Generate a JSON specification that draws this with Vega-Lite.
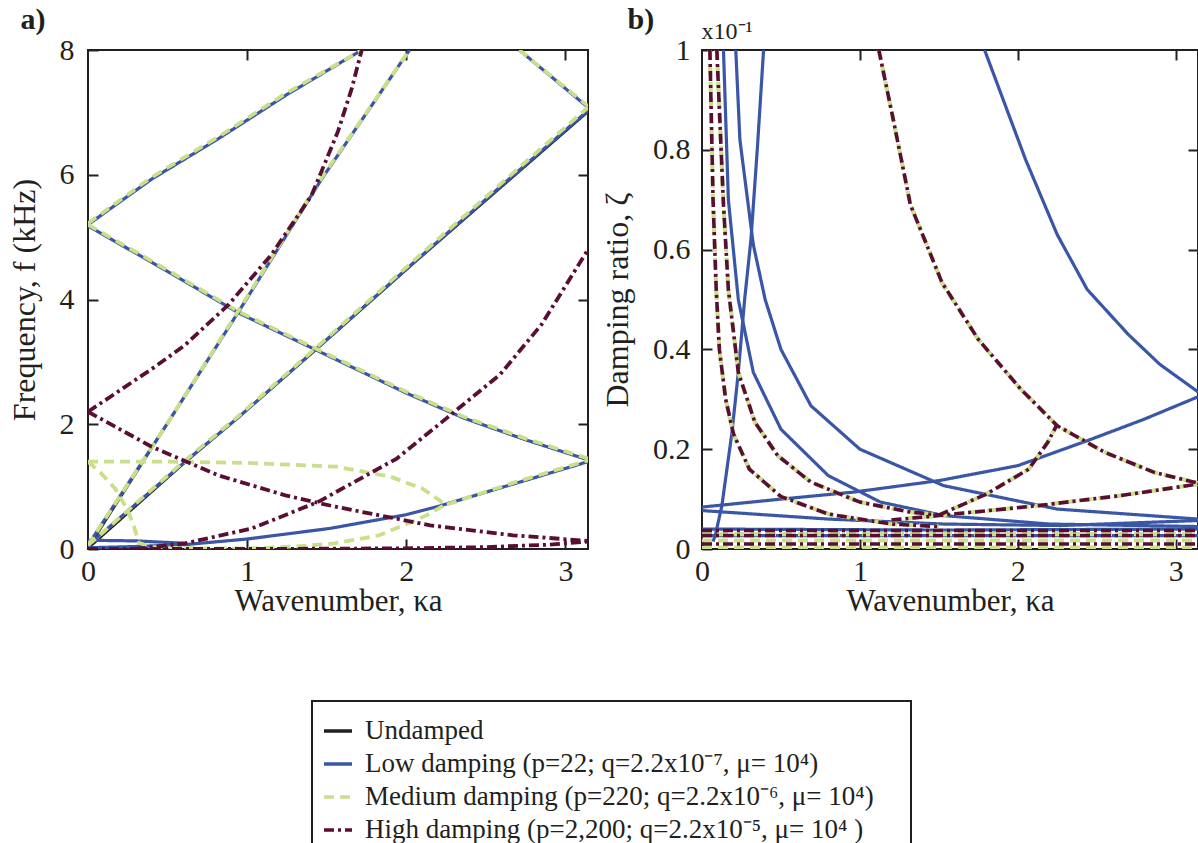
{
  "$schema": "https://vega.github.io/schema/vega-lite/v6.json",
  "padding": {"left": 7, "top": 3, "right": 0, "bottom": 0},
  "spacing": 10,
  "datasets": {
    "a": [
      {"s":"Undamped","c":"A","i":0,"x":0,"y":0},{"s":"Undamped","c":"A","i":1,"x":0.5,"y":2.0},{"s":"Undamped","c":"A","i":2,"x":0.94,"y":3.78},{"s":"Undamped","c":"A","i":3,"x":1.47,"y":5.94},{"s":"Undamped","c":"A","i":4,"x":2.02,"y":8},
      {"s":"Undamped","c":"B","i":0,"x":0,"y":0},{"s":"Undamped","c":"B","i":1,"x":0.61,"y":1.38},{"s":"Undamped","c":"B","i":2,"x":0.94,"y":2.09},{"s":"Undamped","c":"B","i":3,"x":1.43,"y":3.18},{"s":"Undamped","c":"B","i":4,"x":2.05,"y":4.58},{"s":"Undamped","c":"B","i":5,"x":2.6,"y":5.8},{"s":"Undamped","c":"B","i":6,"x":3.1416,"y":7.0},
      {"s":"Undamped","c":"C","i":0,"x":0,"y":5.2},{"s":"Undamped","c":"C","i":1,"x":0.4,"y":5.93},{"s":"Undamped","c":"C","i":2,"x":0.82,"y":6.58},{"s":"Undamped","c":"C","i":3,"x":1.24,"y":7.27},{"s":"Undamped","c":"C","i":4,"x":1.72,"y":8},
      {"s":"Undamped","c":"D","i":0,"x":0,"y":5.18},{"s":"Undamped","c":"D","i":1,"x":0.5,"y":4.45},{"s":"Undamped","c":"D","i":2,"x":0.95,"y":3.78},{"s":"Undamped","c":"D","i":3,"x":1.45,"y":3.17},{"s":"Undamped","c":"D","i":4,"x":2.0,"y":2.5},{"s":"Undamped","c":"D","i":5,"x":2.36,"y":2.1},{"s":"Undamped","c":"D","i":6,"x":2.75,"y":1.75},{"s":"Undamped","c":"D","i":7,"x":3.1416,"y":1.43},
      {"s":"Undamped","c":"E","i":0,"x":2.71,"y":8},{"s":"Undamped","c":"E","i":1,"x":3.1416,"y":7.08},
      {"s":"Undamped","c":"L","i":0,"x":0,"y":0},{"s":"Undamped","c":"L","i":1,"x":0.3,"y":0.03},{"s":"Undamped","c":"L","i":2,"x":0.61,"y":0.07},{"s":"Undamped","c":"L","i":3,"x":1.0,"y":0.16},{"s":"Undamped","c":"L","i":4,"x":1.52,"y":0.33},{"s":"Undamped","c":"L","i":5,"x":2.0,"y":0.55},{"s":"Undamped","c":"L","i":6,"x":2.21,"y":0.69},{"s":"Undamped","c":"L","i":7,"x":2.67,"y":1.04},{"s":"Undamped","c":"L","i":8,"x":3.1416,"y":1.4},

      {"s":"Low","c":"A","i":0,"x":0,"y":0.06},{"s":"Low","c":"A","i":1,"x":0.5,"y":2.02},{"s":"Low","c":"A","i":2,"x":0.94,"y":3.78},{"s":"Low","c":"A","i":3,"x":1.47,"y":5.94},{"s":"Low","c":"A","i":4,"x":2.02,"y":8},
      {"s":"Low","c":"B","i":0,"x":0,"y":0.06},{"s":"Low","c":"B","i":1,"x":0.61,"y":1.4},{"s":"Low","c":"B","i":2,"x":0.94,"y":2.1},{"s":"Low","c":"B","i":3,"x":1.43,"y":3.2},{"s":"Low","c":"B","i":4,"x":2.05,"y":4.6},{"s":"Low","c":"B","i":5,"x":2.6,"y":5.83},{"s":"Low","c":"B","i":6,"x":3.1416,"y":7.03},
      {"s":"Low","c":"C","i":0,"x":0,"y":5.2},{"s":"Low","c":"C","i":1,"x":0.4,"y":5.93},{"s":"Low","c":"C","i":2,"x":0.82,"y":6.58},{"s":"Low","c":"C","i":3,"x":1.24,"y":7.27},{"s":"Low","c":"C","i":4,"x":1.72,"y":8},
      {"s":"Low","c":"D","i":0,"x":0,"y":5.18},{"s":"Low","c":"D","i":1,"x":0.5,"y":4.45},{"s":"Low","c":"D","i":2,"x":0.95,"y":3.78},{"s":"Low","c":"D","i":3,"x":1.45,"y":3.17},{"s":"Low","c":"D","i":4,"x":2.0,"y":2.5},{"s":"Low","c":"D","i":5,"x":2.36,"y":2.1},{"s":"Low","c":"D","i":6,"x":2.75,"y":1.75},{"s":"Low","c":"D","i":7,"x":3.1416,"y":1.43},
      {"s":"Low","c":"E","i":0,"x":2.71,"y":8},{"s":"Low","c":"E","i":1,"x":3.1416,"y":7.08},
      {"s":"Low","c":"L1","i":0,"x":0,"y":0.14},{"s":"Low","c":"L1","i":1,"x":0.3,"y":0.13},{"s":"Low","c":"L1","i":2,"x":0.62,"y":0.09},
      {"s":"Low","c":"L2","i":0,"x":0,"y":0.02},{"s":"Low","c":"L2","i":1,"x":0.3,"y":0.04},{"s":"Low","c":"L2","i":2,"x":0.61,"y":0.07},{"s":"Low","c":"L2","i":3,"x":1.0,"y":0.16},{"s":"Low","c":"L2","i":4,"x":1.52,"y":0.33},{"s":"Low","c":"L2","i":5,"x":2.0,"y":0.55},{"s":"Low","c":"L2","i":6,"x":2.21,"y":0.69},{"s":"Low","c":"L2","i":7,"x":2.67,"y":1.04},{"s":"Low","c":"L2","i":8,"x":3.1416,"y":1.4},

      {"s":"Medium","c":"A","i":0,"x":0,"y":0.06},{"s":"Medium","c":"A","i":1,"x":0.5,"y":2.02},{"s":"Medium","c":"A","i":2,"x":0.94,"y":3.8},{"s":"Medium","c":"A","i":3,"x":1.47,"y":5.96},{"s":"Medium","c":"A","i":4,"x":2.02,"y":8},
      {"s":"Medium","c":"B","i":0,"x":0,"y":0.06},{"s":"Medium","c":"B","i":1,"x":0.61,"y":1.42},{"s":"Medium","c":"B","i":2,"x":0.94,"y":2.12},{"s":"Medium","c":"B","i":3,"x":1.43,"y":3.22},{"s":"Medium","c":"B","i":4,"x":2.05,"y":4.63},{"s":"Medium","c":"B","i":5,"x":2.6,"y":5.87},{"s":"Medium","c":"B","i":6,"x":3.1416,"y":7.08},
      {"s":"Medium","c":"C","i":0,"x":0,"y":5.22},{"s":"Medium","c":"C","i":1,"x":0.4,"y":5.96},{"s":"Medium","c":"C","i":2,"x":0.82,"y":6.61},{"s":"Medium","c":"C","i":3,"x":1.24,"y":7.3},{"s":"Medium","c":"C","i":4,"x":1.72,"y":8},
      {"s":"Medium","c":"D","i":0,"x":0,"y":5.2},{"s":"Medium","c":"D","i":1,"x":0.5,"y":4.47},{"s":"Medium","c":"D","i":2,"x":0.95,"y":3.8},{"s":"Medium","c":"D","i":3,"x":1.45,"y":3.19},{"s":"Medium","c":"D","i":4,"x":2.0,"y":2.52},{"s":"Medium","c":"D","i":5,"x":2.36,"y":2.12},{"s":"Medium","c":"D","i":6,"x":2.75,"y":1.77},{"s":"Medium","c":"D","i":7,"x":3.1416,"y":1.45},
      {"s":"Medium","c":"E","i":0,"x":2.71,"y":8},{"s":"Medium","c":"E","i":1,"x":3.1416,"y":7.1},
      {"s":"Medium","c":"G1","i":0,"x":0,"y":1.4},{"s":"Medium","c":"G1","i":1,"x":0.5,"y":1.4},{"s":"Medium","c":"G1","i":2,"x":1.0,"y":1.38},{"s":"Medium","c":"G1","i":3,"x":1.56,"y":1.32},{"s":"Medium","c":"G1","i":4,"x":1.9,"y":1.16},{"s":"Medium","c":"G1","i":5,"x":2.1,"y":0.97},{"s":"Medium","c":"G1","i":6,"x":2.21,"y":0.78},{"s":"Medium","c":"G1","i":7,"x":2.24,"y":0.7},{"s":"Medium","c":"G1","i":8,"x":2.67,"y":1.06},{"s":"Medium","c":"G1","i":9,"x":3.1416,"y":1.42},
      {"s":"Medium","c":"G2","i":0,"x":0,"y":1.4},{"s":"Medium","c":"G2","i":1,"x":0.08,"y":1.22},{"s":"Medium","c":"G2","i":2,"x":0.17,"y":0.97},{"s":"Medium","c":"G2","i":3,"x":0.25,"y":0.62},{"s":"Medium","c":"G2","i":4,"x":0.29,"y":0.35},{"s":"Medium","c":"G2","i":5,"x":0.32,"y":0.1},{"s":"Medium","c":"G2","i":6,"x":0.4,"y":0.03},{"s":"Medium","c":"G2","i":7,"x":0.7,"y":0.01},{"s":"Medium","c":"G2","i":8,"x":1.03,"y":0.01},{"s":"Medium","c":"G2","i":9,"x":1.3,"y":0.04},{"s":"Medium","c":"G2","i":10,"x":1.55,"y":0.09},{"s":"Medium","c":"G2","i":11,"x":1.83,"y":0.22},{"s":"Medium","c":"G2","i":12,"x":2.04,"y":0.44},{"s":"Medium","c":"G2","i":13,"x":2.15,"y":0.57},{"s":"Medium","c":"G2","i":14,"x":2.23,"y":0.69},

      {"s":"High","c":"M1","i":0,"x":0,"y":2.2},{"s":"High","c":"M1","i":1,"x":0.42,"y":2.92},{"s":"High","c":"M1","i":2,"x":0.61,"y":3.27},{"s":"High","c":"M1","i":3,"x":0.88,"y":3.91},{"s":"High","c":"M1","i":4,"x":1.15,"y":4.71},{"s":"High","c":"M1","i":5,"x":1.405,"y":5.67},{"s":"High","c":"M1","i":6,"x":1.57,"y":6.69},{"s":"High","c":"M1","i":7,"x":1.657,"y":7.38},{"s":"High","c":"M1","i":8,"x":1.72,"y":8},
      {"s":"High","c":"M2","i":0,"x":0,"y":2.2},{"s":"High","c":"M2","i":1,"x":0.4,"y":1.64},{"s":"High","c":"M2","i":2,"x":0.82,"y":1.18},{"s":"High","c":"M2","i":3,"x":1.24,"y":0.86},{"s":"High","c":"M2","i":4,"x":1.55,"y":0.68},{"s":"High","c":"M2","i":5,"x":2.15,"y":0.38},{"s":"High","c":"M2","i":6,"x":2.67,"y":0.22},{"s":"High","c":"M2","i":7,"x":3.1416,"y":0.13},
      {"s":"High","c":"M3","i":0,"x":0.3,"y":0},{"s":"High","c":"M3","i":1,"x":0.61,"y":0.09},{"s":"High","c":"M3","i":2,"x":1.03,"y":0.33},{"s":"High","c":"M3","i":3,"x":1.45,"y":0.76},{"s":"High","c":"M3","i":4,"x":1.94,"y":1.45},{"s":"High","c":"M3","i":5,"x":2.25,"y":2.09},{"s":"High","c":"M3","i":6,"x":2.59,"y":2.8},{"s":"High","c":"M3","i":7,"x":2.85,"y":3.6},{"s":"High","c":"M3","i":8,"x":3.1416,"y":4.8},
      {"s":"High","c":"M4","i":0,"x":0,"y":0},{"s":"High","c":"M4","i":1,"x":1.0,"y":0},{"s":"High","c":"M4","i":2,"x":2.0,"y":0.01},{"s":"High","c":"M4","i":3,"x":2.5,"y":0.03},{"s":"High","c":"M4","i":4,"x":2.9,"y":0.07},{"s":"High","c":"M4","i":5,"x":3.1416,"y":0.12}
    ],
    "b": [
      {"s":"Low","c":"B1","i":0,"x":0.136,"y":1.0},{"s":"Low","c":"B1","i":1,"x":0.167,"y":0.7},{"s":"Low","c":"B1","i":2,"x":0.23,"y":0.5},{"s":"Low","c":"B1","i":3,"x":0.325,"y":0.354},{"s":"Low","c":"B1","i":4,"x":0.5,"y":0.24},{"s":"Low","c":"B1","i":5,"x":0.8,"y":0.147},{"s":"Low","c":"B1","i":6,"x":1.13,"y":0.094},{"s":"Low","c":"B1","i":7,"x":1.53,"y":0.067},{"s":"Low","c":"B1","i":8,"x":2.2,"y":0.05},{"s":"Low","c":"B1","i":9,"x":3.1416,"y":0.045},
      {"s":"Low","c":"B2","i":0,"x":0.214,"y":1.0},{"s":"Low","c":"B2","i":1,"x":0.24,"y":0.82},{"s":"Low","c":"B2","i":2,"x":0.325,"y":0.61},{"s":"Low","c":"B2","i":3,"x":0.4,"y":0.5},{"s":"Low","c":"B2","i":4,"x":0.5,"y":0.4},{"s":"Low","c":"B2","i":5,"x":0.69,"y":0.287},{"s":"Low","c":"B2","i":6,"x":1.0,"y":0.2},{"s":"Low","c":"B2","i":7,"x":1.53,"y":0.127},{"s":"Low","c":"B2","i":8,"x":2.25,"y":0.08},{"s":"Low","c":"B2","i":9,"x":3.1416,"y":0.06},
      {"s":"Low","c":"B3","i":0,"x":0.07,"y":0.015},{"s":"Low","c":"B3","i":1,"x":0.084,"y":0.027},{"s":"Low","c":"B3","i":2,"x":0.126,"y":0.087},{"s":"Low","c":"B3","i":3,"x":0.19,"y":0.234},{"s":"Low","c":"B3","i":4,"x":0.23,"y":0.354},{"s":"Low","c":"B3","i":5,"x":0.27,"y":0.5},{"s":"Low","c":"B3","i":6,"x":0.31,"y":0.62},{"s":"Low","c":"B3","i":7,"x":0.35,"y":0.8},{"s":"Low","c":"B3","i":8,"x":0.39,"y":1.0},
      {"s":"Low","c":"B4","i":0,"x":1.79,"y":1.0},{"s":"Low","c":"B4","i":1,"x":2.05,"y":0.78},{"s":"Low","c":"B4","i":2,"x":2.25,"y":0.63},{"s":"Low","c":"B4","i":3,"x":2.44,"y":0.52},{"s":"Low","c":"B4","i":4,"x":2.7,"y":0.43},{"s":"Low","c":"B4","i":5,"x":2.9,"y":0.37},{"s":"Low","c":"B4","i":6,"x":3.1416,"y":0.315},
      {"s":"Low","c":"B5","i":0,"x":0,"y":0.084},{"s":"Low","c":"B5","i":1,"x":0.5,"y":0.1},{"s":"Low","c":"B5","i":2,"x":0.96,"y":0.114},{"s":"Low","c":"B5","i":3,"x":1.5,"y":0.137},{"s":"Low","c":"B5","i":4,"x":2.0,"y":0.167},{"s":"Low","c":"B5","i":5,"x":2.44,"y":0.217},{"s":"Low","c":"B5","i":6,"x":2.8,"y":0.26},{"s":"Low","c":"B5","i":7,"x":3.1416,"y":0.305},
      {"s":"Low","c":"B6","i":0,"x":0,"y":0.077},{"s":"Low","c":"B6","i":1,"x":0.8,"y":0.06},{"s":"Low","c":"B6","i":2,"x":1.53,"y":0.05},{"s":"Low","c":"B6","i":3,"x":2.27,"y":0.047},{"s":"Low","c":"B6","i":4,"x":3.1416,"y":0.057},
      {"s":"Low","c":"B7","i":0,"x":0,"y":0.027},{"s":"Low","c":"B7","i":1,"x":1.5,"y":0.027},{"s":"Low","c":"B7","i":2,"x":3.1416,"y":0.027},
      {"s":"Low","c":"B8","i":0,"x":0,"y":0.04},{"s":"Low","c":"B8","i":1,"x":1.5,"y":0.038},{"s":"Low","c":"B8","i":2,"x":3.1416,"y":0.04},

      {"s":"Medium","c":"P1","i":0,"x":0.05,"y":1.0},{"s":"Medium","c":"P1","i":1,"x":0.07,"y":0.7},{"s":"Medium","c":"P1","i":2,"x":0.09,"y":0.52},{"s":"Medium","c":"P1","i":3,"x":0.11,"y":0.4},{"s":"Medium","c":"P1","i":4,"x":0.15,"y":0.3},{"s":"Medium","c":"P1","i":5,"x":0.2,"y":0.23},{"s":"Medium","c":"P1","i":6,"x":0.3,"y":0.16},{"s":"Medium","c":"P1","i":7,"x":0.5,"y":0.105},{"s":"Medium","c":"P1","i":8,"x":0.8,"y":0.07},{"s":"Medium","c":"P1","i":9,"x":1.2,"y":0.05},{"s":"Medium","c":"P1","i":10,"x":1.5,"y":0.045},
      {"s":"Medium","c":"P2","i":0,"x":0.094,"y":1.0},{"s":"Medium","c":"P2","i":1,"x":0.136,"y":0.69},{"s":"Medium","c":"P2","i":2,"x":0.167,"y":0.52},{"s":"Medium","c":"P2","i":3,"x":0.23,"y":0.354},{"s":"Medium","c":"P2","i":4,"x":0.335,"y":0.254},{"s":"Medium","c":"P2","i":5,"x":0.48,"y":0.187},{"s":"Medium","c":"P2","i":6,"x":0.69,"y":0.134},{"s":"Medium","c":"P2","i":7,"x":1.0,"y":0.094},{"s":"Medium","c":"P2","i":8,"x":1.32,"y":0.074},{"s":"Medium","c":"P2","i":9,"x":1.5,"y":0.068},
      {"s":"Medium","c":"P3","i":0,"x":1.5,"y":0.068},{"s":"Medium","c":"P3","i":1,"x":1.8,"y":0.11},{"s":"Medium","c":"P3","i":2,"x":2.07,"y":0.16},{"s":"Medium","c":"P3","i":3,"x":2.19,"y":0.214},{"s":"Medium","c":"P3","i":4,"x":2.25,"y":0.25},
      {"s":"Medium","c":"P4","i":0,"x":1.12,"y":1.0},{"s":"Medium","c":"P4","i":1,"x":1.215,"y":0.855},{"s":"Medium","c":"P4","i":2,"x":1.32,"y":0.69},{"s":"Medium","c":"P4","i":3,"x":1.52,"y":0.534},{"s":"Medium","c":"P4","i":4,"x":1.75,"y":0.42},{"s":"Medium","c":"P4","i":5,"x":2.02,"y":0.32},{"s":"Medium","c":"P4","i":6,"x":2.25,"y":0.247},{"s":"Medium","c":"P4","i":7,"x":2.55,"y":0.194},{"s":"Medium","c":"P4","i":8,"x":2.86,"y":0.154},{"s":"Medium","c":"P4","i":9,"x":3.1416,"y":0.132},
      {"s":"Medium","c":"P5","i":0,"x":1.2,"y":0.058},{"s":"Medium","c":"P5","i":1,"x":1.5,"y":0.067},{"s":"Medium","c":"P5","i":2,"x":2.13,"y":0.087},{"s":"Medium","c":"P5","i":3,"x":2.65,"y":0.107},{"s":"Medium","c":"P5","i":4,"x":3.1416,"y":0.13},
      {"s":"Medium","c":"R1","i":0,"x":0,"y":0.03},{"s":"Medium","c":"R1","i":1,"x":3.1416,"y":0.03},
      {"s":"Medium","c":"R2","i":0,"x":0,"y":0.017},{"s":"Medium","c":"R2","i":1,"x":3.1416,"y":0.017},
      {"s":"Medium","c":"R3","i":0,"x":0,"y":0.003},{"s":"Medium","c":"R3","i":1,"x":3.1416,"y":0.003},

      {"s":"High","c":"P1","i":0,"x":0.05,"y":1.0},{"s":"High","c":"P1","i":1,"x":0.07,"y":0.7},{"s":"High","c":"P1","i":2,"x":0.09,"y":0.52},{"s":"High","c":"P1","i":3,"x":0.11,"y":0.4},{"s":"High","c":"P1","i":4,"x":0.15,"y":0.3},{"s":"High","c":"P1","i":5,"x":0.2,"y":0.23},{"s":"High","c":"P1","i":6,"x":0.3,"y":0.16},{"s":"High","c":"P1","i":7,"x":0.5,"y":0.105},{"s":"High","c":"P1","i":8,"x":0.8,"y":0.07},{"s":"High","c":"P1","i":9,"x":1.2,"y":0.05},{"s":"High","c":"P1","i":10,"x":1.5,"y":0.045},
      {"s":"High","c":"P2","i":0,"x":0.094,"y":1.0},{"s":"High","c":"P2","i":1,"x":0.136,"y":0.69},{"s":"High","c":"P2","i":2,"x":0.167,"y":0.52},{"s":"High","c":"P2","i":3,"x":0.23,"y":0.354},{"s":"High","c":"P2","i":4,"x":0.335,"y":0.254},{"s":"High","c":"P2","i":5,"x":0.48,"y":0.187},{"s":"High","c":"P2","i":6,"x":0.69,"y":0.134},{"s":"High","c":"P2","i":7,"x":1.0,"y":0.094},{"s":"High","c":"P2","i":8,"x":1.32,"y":0.074},{"s":"High","c":"P2","i":9,"x":1.5,"y":0.068},
      {"s":"High","c":"P3","i":0,"x":1.5,"y":0.068},{"s":"High","c":"P3","i":1,"x":1.8,"y":0.11},{"s":"High","c":"P3","i":2,"x":2.07,"y":0.16},{"s":"High","c":"P3","i":3,"x":2.19,"y":0.214},{"s":"High","c":"P3","i":4,"x":2.25,"y":0.25},
      {"s":"High","c":"P4","i":0,"x":1.12,"y":1.0},{"s":"High","c":"P4","i":1,"x":1.215,"y":0.855},{"s":"High","c":"P4","i":2,"x":1.32,"y":0.69},{"s":"High","c":"P4","i":3,"x":1.52,"y":0.534},{"s":"High","c":"P4","i":4,"x":1.75,"y":0.42},{"s":"High","c":"P4","i":5,"x":2.02,"y":0.32},{"s":"High","c":"P4","i":6,"x":2.25,"y":0.247},{"s":"High","c":"P4","i":7,"x":2.55,"y":0.194},{"s":"High","c":"P4","i":8,"x":2.86,"y":0.154},{"s":"High","c":"P4","i":9,"x":3.1416,"y":0.132},
      {"s":"High","c":"P5","i":0,"x":1.2,"y":0.058},{"s":"High","c":"P5","i":1,"x":1.5,"y":0.067},{"s":"High","c":"P5","i":2,"x":2.13,"y":0.087},{"s":"High","c":"P5","i":3,"x":2.65,"y":0.107},{"s":"High","c":"P5","i":4,"x":3.1416,"y":0.13},
      {"s":"High","c":"R1","i":0,"x":0,"y":0.037},{"s":"High","c":"R1","i":1,"x":3.1416,"y":0.037},
      {"s":"High","c":"R2","i":0,"x":0,"y":0.027},{"s":"High","c":"R2","i":1,"x":3.1416,"y":0.027},
      {"s":"High","c":"R3","i":0,"x":0,"y":0.01},{"s":"High","c":"R3","i":1,"x":3.1416,"y":0.01}
    ]
  },
  "hconcat": [
    {
      "width": 500,
      "height": 499,
      "data": {"name": "a"},
      "encoding": {
        "x": {"field": "x", "type": "quantitative", "scale": {"domain": [0, 3.1416], "nice": false, "zero": false}, "axis": null},
        "y": {"field": "y", "type": "quantitative", "scale": {"domain": [0, 8], "nice": false}, "axis": null},
        "color": {"field": "s", "type": "nominal", "scale": {"domain": ["Undamped", "Low", "Medium", "High"], "range": ["#231f20", "#3a56a6", "#c9df8a", "#5a0e32"]}, "legend": null},
        "strokeDash": {"field": "s", "type": "nominal", "scale": {"domain": ["Undamped", "Low", "Medium", "High"], "range": [[1, 0], [1, 0], [10, 6], [10, 4, 3, 4]]}, "legend": null},
        "detail": {"field": "c", "type": "nominal"},
        "order": {"field": "i", "type": "quantitative"}
      },
      "layer": [
        {
          "transform": [{"filter": "datum.s == 'Undamped'"}],
          "mark": {"type": "line", "strokeWidth": 1.6, "clip": true},
          "encoding": {
            "x": {"field": "x", "type": "quantitative", "scale": {"domain": [0, 3.1416], "nice": false, "zero": false},
              "axis": {"orient": "bottom", "values": [0, 1, 2, 3], "format": "d", "title": "Wavenumber, κa", "labelPadding": 17, "titlePadding": 0, "titleFontSize": 31}},
            "y": {"field": "y", "type": "quantitative", "scale": {"domain": [0, 8], "nice": false},
              "axis": {"orient": "left", "values": [0, 2, 4, 6, 8], "format": "d", "title": "Frequency, f (kHz)", "labelPadding": 24, "titlePadding": 18}},
            "color": {"field": "s", "type": "nominal", "scale": {"domain": ["Undamped", "Low", "Medium", "High"], "range": ["#231f20", "#3a56a6", "#c9df8a", "#5a0e32"]},
              "legend": {"title": " ", "orient": "none", "legendX": 224, "legendY": 651,
                "labelExpr": "datum.value == 'Undamped' ? 'Undamped' : datum.value == 'Low' ? 'Low damping (p=22; q=2.2x10⁻⁷, μ= 10⁴)' : datum.value == 'Medium' ? 'Medium damping (p=220; q=2.2x10⁻⁶, μ= 10⁴)\u00a0\u00a0\u00a0\u00a0\u200b' : 'High damping (p=2,200; q=2.2x10⁻⁵, μ= 10⁴ )'"}},
            "strokeDash": {"field": "s", "type": "nominal", "scale": {"domain": ["Undamped", "Low", "Medium", "High"], "range": [[1, 0], [1, 0], [10, 6], [10, 4, 3, 4]]},
              "legend": {"title": " ", "orient": "none", "legendX": 224, "legendY": 651,
                "labelExpr": "datum.value == 'Undamped' ? 'Undamped' : datum.value == 'Low' ? 'Low damping (p=22; q=2.2x10⁻⁷, μ= 10⁴)' : datum.value == 'Medium' ? 'Medium damping (p=220; q=2.2x10⁻⁶, μ= 10⁴)\u00a0\u00a0\u00a0\u00a0\u200b' : 'High damping (p=2,200; q=2.2x10⁻⁵, μ= 10⁴ )'"}}
          }
        },
        {
          "transform": [{"filter": "datum.s == 'Low'"}],
          "mark": {"type": "line", "strokeWidth": 3.2, "clip": true}
        },
        {
          "transform": [{"filter": "datum.s == 'Medium'"}],
          "mark": {"type": "line", "strokeWidth": 3.8, "clip": true}
        },
        {
          "transform": [{"filter": "datum.s == 'High'"}],
          "mark": {"type": "line", "strokeWidth": 3.8, "clip": true},
          "encoding": {
            "x": {"field": "x", "type": "quantitative", "scale": {"domain": [0, 3.1416], "nice": false, "zero": false},
              "axis": {"orient": "top", "values": [1, 2, 3], "labels": false, "title": "a)", "titleX": -68, "titleY": -22, "titleAngle": 0, "titleAlign": "left", "titleBaseline": "alphabetic", "titleFontWeight": "bold", "titleFontSize": 30}},
            "y": {"field": "y", "type": "quantitative", "scale": {"domain": [0, 8], "nice": false},
              "axis": {"orient": "right", "values": [2, 4, 6], "labels": false, "title": null}}
          }
        }
      ]
    },
    {
      "width": 496,
      "height": 499,
      "data": {"name": "b"},
      "encoding": {
        "x": {"field": "x", "type": "quantitative", "scale": {"domain": [0, 3.1416], "nice": false, "zero": false}, "axis": null},
        "y": {"field": "y", "type": "quantitative", "scale": {"domain": [0, 1], "nice": false}, "axis": null},
        "color": {"field": "s", "type": "nominal", "scale": {"domain": ["Undamped", "Low", "Medium", "High"], "range": ["#231f20", "#3a56a6", "#c9df8a", "#5a0e32"]}, "legend": null},
        "strokeDash": {"field": "s", "type": "nominal", "scale": {"domain": ["Undamped", "Low", "Medium", "High"], "range": [[1, 0], [1, 0], [10, 6], [10, 4, 3, 4]]}, "legend": null},
        "detail": {"field": "c", "type": "nominal"},
        "order": {"field": "i", "type": "quantitative"}
      },
      "layer": [
        {
          "transform": [{"filter": "datum.s == 'Low'"}],
          "mark": {"type": "line", "strokeWidth": 3.2, "clip": true},
          "encoding": {
            "x": {"field": "x", "type": "quantitative", "scale": {"domain": [0, 3.1416], "nice": false, "zero": false},
              "axis": {"orient": "bottom", "values": [0, 1, 2, 3], "format": "d", "title": "Wavenumber, κa", "labelPadding": 17, "titlePadding": 0, "titleFontSize": 31}},
            "y": {"field": "y", "type": "quantitative", "scale": {"domain": [0, 1], "nice": false},
              "axis": {"orient": "left", "values": [0, 0.2, 0.4, 0.6, 0.8, 1], "format": "~g", "title": "Damping ratio, ζ", "labelPadding": 22, "titlePadding": 18}}
          }
        },
        {
          "transform": [{"filter": "datum.s == 'Medium'"}],
          "mark": {"type": "line", "strokeWidth": 4.2, "clip": true}
        },
        {
          "transform": [{"filter": "datum.s == 'High'"}],
          "mark": {"type": "line", "strokeWidth": 3.6, "clip": true},
          "encoding": {
            "x": {"field": "x", "type": "quantitative", "scale": {"domain": [0, 3.1416], "nice": false, "zero": false},
              "axis": {"orient": "top", "values": [1, 2, 3], "labels": false, "title": "b)", "titleX": -75, "titleY": -22, "titleAngle": 0, "titleAlign": "left", "titleBaseline": "alphabetic", "titleFontWeight": "bold", "titleFontSize": 30}},
            "y": {"field": "y", "type": "quantitative", "scale": {"domain": [0, 1], "nice": false},
              "axis": {"orient": "right", "values": [0.2, 0.4, 0.6, 0.8], "labels": false, "title": "x10⁻¹", "titleX": -497, "titleY": -12, "titleAngle": 0, "titleAlign": "left", "titleBaseline": "alphabetic", "titleFontWeight": "normal", "titleFontSize": 24}}
          }
        }
      ]
    }
  ],
  "config": {
    "font": "Liberation Serif",
    "view": {"stroke": "#231f20", "strokeWidth": 2},
    "axis": {
      "grid": false,
      "domain": false,
      "tickSize": -10,
      "tickWidth": 2,
      "tickColor": "#231f20",
      "labelFlush": false,
      "labelFont": "Liberation Serif",
      "labelFontSize": 30,
      "labelColor": "#231f20",
      "titleFont": "Liberation Serif",
      "titleFontSize": 32,
      "titleFontWeight": "normal",
      "titleColor": "#231f20"
    },
    "legend": {
      "strokeColor": "#231f20",
      "strokeWidth": 2,
      "padding": 10,
      "titleFontSize": 3,
      "titlePadding": 1,
      "symbolType": "stroke",
      "symbolSize": 784,
      "symbolStrokeWidth": 3.5,
      "labelFont": "Liberation Serif",
      "labelFontSize": 27,
      "labelColor": "#231f20",
      "labelLimit": 900,
      "labelOffset": 11,
      "rowPadding": 4
    }
  }
}
